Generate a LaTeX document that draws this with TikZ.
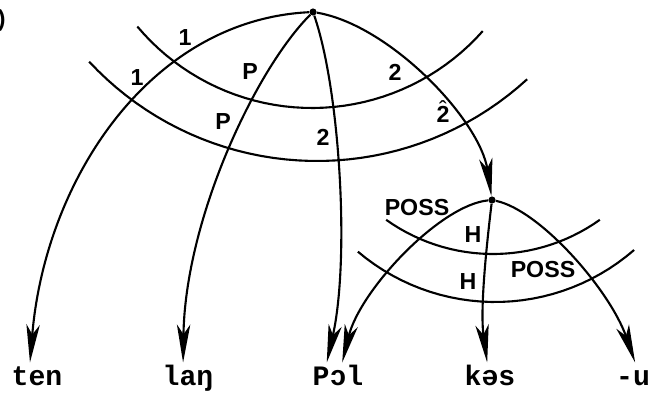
\documentclass[tikz,border=0pt]{standalone}
\usepackage{fontspec}
\setmainfont{Liberation Sans}
\newfontfamily\wordfont{Liberation Mono}
\usetikzlibrary{arrows.meta}
\tikzset{
  arr/.style={line width=1.5pt, -{Stealth[length=27pt, width=9.5pt, inset=7pt]}},
  band/.style={line width=1.5pt},
  dot/.style={circle, fill, inner sep=1.8pt},
  lab/.style={font=\bfseries\fontsize{16.5}{18}\selectfont, inner sep=0pt},
  word/.style={font=\wordfont\bfseries\fontsize{20}{22}\selectfont, anchor=base,
    inner sep=0pt, text height=12pt, text depth=3pt, outer sep=4pt}
}
\begin{document}
\begin{tikzpicture}[x=0.025cm, y=-0.025cm]
  \useasboundingbox (0,0) rectangle (650,395);
  \node[lab, anchor=east] (tag) at (6,20) {)};
  % roots
  \node[dot] (root) at (313,12) {};
  \node[dot] (lroot) at (492,200) {};
  % words
  \node[word] (ten) at (37,385) {ten};
  \node[word] (lan) at (188,385) {laŋ};
  \node[word] (pol) at (338,385) {Pɔl};
  \node[word] (kas) at (490,385) {kəs};
  \node[word] (u) at (633,385) {-u};
  % bands
  \draw[band] plot[domain=41.5:140, samples=40] ({312+228*cos(\x)}, {-120+228*sin(\x)});
  \draw[band] plot[domain=47.5:137.1, samples=40] ({317+311*cos(\x)}, {-150+311*sin(\x)});
  \draw[band] plot[domain=54.5:125.5, samples=30] ({493+184*cos(\x)}, {70+184*sin(\x)});
  \draw[band] plot[domain=49:130.3, samples=30] ({495+212*cos(\x)}, {90+212*sin(\x)});
  % band labels
  \node[lab] (l1a) at (185,38) {1};
  \node[lab] (l1b) at (137,78) {1};
  \node[lab] (lPa) at (250,72) {P};
  \node[lab] (lPb) at (223,122) {P};
  \node[lab] (l2a) at (395,72) {2};
  \node[lab, anchor=base] (l2b) at (443,122)
    {\ooalign{2\cr\hidewidth\raisebox{3pt}{\mdseries\char"02C6}\hidewidth\cr}};
  \node[lab] (l2c) at (323,137) {2};
  \node[lab] (lPossa) at (417,208) {POSS};
  \node[lab] (lHa) at (473,235) {H};
  \node[lab] (lHb) at (468,282) {H};
  \node[lab] (lPossb) at (543,270) {POSS};
  % arcs
  \draw[arr] (root) .. controls (150,20) and (45,180) .. ([xshift=-5pt]ten.north);
  \draw[arr] (root) .. controls (255,70) and (185,220) .. ([xshift=-3.5pt]lan.north);
  \draw[arr] (root) .. controls (340,90) and (350,260) .. ([xshift=-8pt]pol.north);
  \draw[arr] (root) .. controls (390,25) and (480,120) .. (lroot);
  \draw[arr] (lroot) .. controls (440,205) and (360,290) .. ([xshift=3pt]pol.north);
  \draw[arr] (lroot) .. controls (486,250) and (480,310) .. ([xshift=-2pt]kas.north);
  \draw[arr] (lroot) .. controls (540,210) and (610,290) .. ([xshift=1.5pt]u.north);
\end{tikzpicture}
\end{document}
